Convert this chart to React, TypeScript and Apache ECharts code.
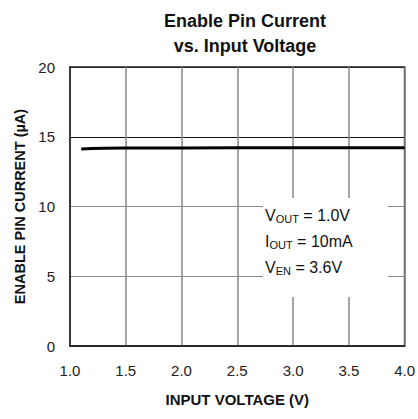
import React, { useEffect, useRef } from "react";
import * as echarts from "echarts";

const titleLines = ["Enable Pin Current", "vs. Input Voltage"];
const xName = "INPUT VOLTAGE (V)";
const yName = "ENABLE PIN CURRENT (µA)";
const xTicks = [1.0, 1.5, 2.0, 2.5, 3.0, 3.5, 4.0];
const yTicks = [0, 5, 10, 15, 20];
const inputVoltage = [1.1, 1.2, 1.3, 1.5, 2.0, 2.5, 3.0, 3.5, 4.0];
const enableCurrent = [14.12, 14.15, 14.17, 14.19, 14.2, 14.21, 14.21, 14.22, 14.22];
const conditions = [
  { main: "V", sub: "OUT", rest: " = 1.0V" },
  { main: "I", sub: "OUT", rest: " = 10mA" },
  { main: "V", sub: "EN", rest: " = 3.6V" },
];

const FONT = 'Arial, "Liberation Sans", Helvetica, sans-serif';

export default function App() {
  const ref = useRef<HTMLDivElement>(null);
  useEffect(() => {
    if (!ref.current) return;
    const chart = echarts.init(ref.current, undefined, { renderer: "svg" });
    const condText = conditions
      .map((c) => `{n|${c.main}}{s|${c.sub}}{n|${c.rest}}`)
      .join("\n");
    chart.setOption({
      animation: false,
      backgroundColor: "#ffffff",
      textStyle: { fontFamily: FONT },
      title: {
        text: titleLines.join("\n"),
        left: 240,
        top: 3,
        textAlign: "center",
        textStyle: {
          fontFamily: FONT,
          fontSize: 18,
          fontWeight: "bold",
          color: "#111",
          lineHeight: 25,
        },
      },
      grid: {
        left: 70,
        top: 67,
        width: 336,
        height: 279,
        show: true,
        borderColor: "#222",
        borderWidth: 1.5,
        backgroundColor: "transparent",
      },
      xAxis: {
        type: "value",
        min: xTicks[0],
        max: xTicks[xTicks.length - 1],
        interval: 0.5,
        name: xName,
        nameLocation: "middle",
        nameGap: 46,
        nameTextStyle: { fontFamily: FONT, fontSize: 15, fontWeight: "bold", color: "#111" },
        axisLine: { show: true, lineStyle: { color: "#222", width: 1.5 } },
        axisTick: { show: false },
        axisLabel: {
          margin: 17,
          fontFamily: FONT,
          fontSize: 15,
          color: "#222",
          formatter: (v: number) => v.toFixed(1),
        },
        splitLine: { show: true, lineStyle: { color: "#888", width: 1.5 } },
      },
      yAxis: {
        type: "value",
        min: yTicks[0],
        max: yTicks[yTicks.length - 1],
        interval: 5,
        name: yName,
        nameLocation: "middle",
        nameGap: 40,
        nameTextStyle: { fontFamily: FONT, fontSize: 14.5, fontWeight: "bold", color: "#111" },
        axisLine: { show: true, lineStyle: { color: "#222", width: 1.5 } },
        axisTick: { show: false },
        axisLabel: { margin: 15, fontFamily: FONT, fontSize: 15, color: "#222" },
        splitLine: {
          show: true,
          lineStyle: { color: ["#222", "#888", "#888", "#111", "#222"], width: 1.2 },
        },
      },
      graphic: [
        {
          type: "rect",
          shape: { x: 263, y: 198, width: 125, height: 99 },
          style: { fill: "#ffffff" },
          z: 100,
        },
        {
          type: "text",
          x: 265,
          y: 202,
          z: 101,
          style: {
            text: condText,
            fontFamily: FONT,
            fill: "#111",
            rich: {
              n: { fontSize: 16, fontFamily: FONT, lineHeight: 26, color: "#111" },
              s: {
                fontSize: 11,
                fontFamily: FONT,
                lineHeight: 26,
                color: "#111",
                padding: [8, 0, 0, 0],
              },
            },
          },
        },
      ],
      series: [
        {
          type: "line",
          data: inputVoltage.map((x, i) => [x, enableCurrent[i]]),
          showSymbol: false,
          symbol: "none",
          lineStyle: { color: "#000", width: 3 },
          z: 5,
        },
      ],
    });
    return () => chart.dispose();
  }, []);
  return (
    <div
      ref={ref}
      style={{ position: "fixed", left: 0, top: 0, width: 418, height: 419 }}
    />
  );
}
